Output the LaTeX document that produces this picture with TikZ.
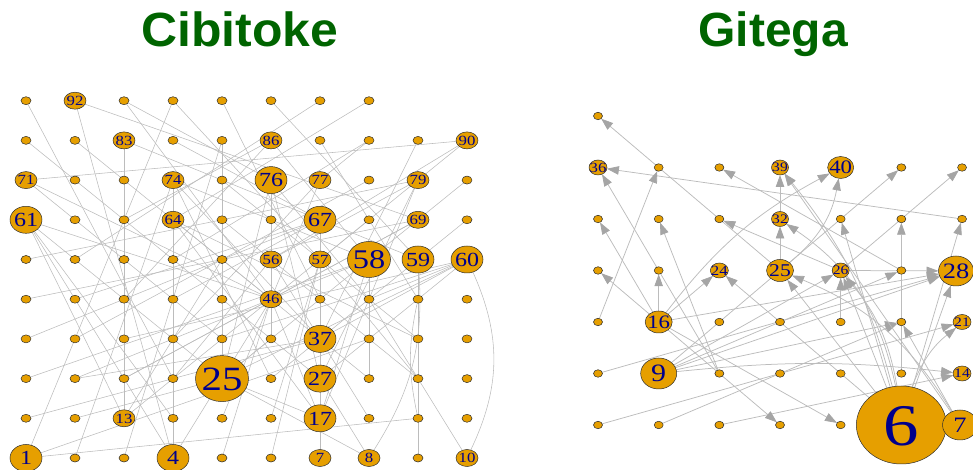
\documentclass[tikz,border=0pt]{standalone}
\usepackage{fontspec}
\setmainfont{Liberation Serif}
\newfontfamily\titlefont{Liberation Sans}
\usetikzlibrary{shapes.geometric,arrows.meta}
\definecolor{nodefill}{RGB}{230,159,0}
\definecolor{nodeborder}{RGB}{45,45,45}
\definecolor{labblue}{RGB}{0,0,139}
\definecolor{edgegray}{RGB}{188,188,188}
\definecolor{arrgray}{RGB}{165,165,165}
\definecolor{titlegreen}{RGB}{0,100,0}
\pgfdeclarelayer{bg}
\pgfsetlayers{bg,main}
\newcommand\nlab[1]{\makebox[0pt]{\smash{\raisebox{-0.34em}{\scalebox{1.2}[1]{#1}}}}}
\begin{document}
\begin{tikzpicture}[x=1pt,y=1pt,
  vtx/.style={ellipse, draw=nodeborder, line width=0.5pt, fill=nodefill, inner sep=0pt, outer sep=0pt, text=labblue},
  cs/.style={vtx, minimum width=10pt, minimum height=8pt},
  gs/.style={vtx, minimum width=9pt, minimum height=7.5pt},
  lab/.style n args={3}{vtx, minimum width=#1pt, minimum height=#2pt, font=\fontsize{#3}{#3}\selectfont},
  cedge/.style={draw=edgegray, line width=0.55pt},
  gedge/.style={draw=edgegray, line width=0.75pt, -{Triangle[length=12pt,width=8.5pt,color=arrgray]}},
  title/.style={font=\titlefont\bfseries\fontsize{48}{48}\selectfont, text=titlegreen, anchor=base}
]
\useasboundingbox (0,0) rectangle (973,470);
\clip (0,0) rectangle (973,470);

% titles
\node[title, xscale=1.04, transform shape] (t1) at (240,423) {Cibitoke};
\node[title] (t2) at (773,423) {Gitega};

% ---------- Cibitoke nodes ----------
\foreach \n/\ww/\hh/\fs in {1/32/27/20, 4/32/27/20, 17/32/27/20, 27/32/27/20, 37/32/27/20,
  59/32/27/20, 60/32/27/20, 61/32/27/20, 67/32/27/20, 76/32/27/20,
  25/53/46/34, 58/43/36/27,
  7/22/17/14, 8/22/17/14, 10/22/17/14, 13/22/17/14, 46/22/17/14, 56/22/17/14, 57/22/17/14,
  64/22/17/14, 69/22/17/14, 71/22/17/14, 74/22/17/14, 77/22/17/14, 79/22/17/14, 83/22/17/14,
  86/22/17/14, 90/22/17/14, 92/22/17/14} {
  \pgfmathtruncatemacro\rr{(\n-1)/10}
  \pgfmathtruncatemacro\cc{\n-1-10*\rr}
  \node[lab={\ww}{\hh}{\fs}] (C\n) at ({26+49*\cc},{12+39.7*\rr}) {\nlab{\n}};
}
\foreach \n in {2,3,5,6,9,11,12,14,15,16,18,19,20,21,22,23,24,26,28,29,30,
  31,32,33,34,35,36,38,39,40,41,42,43,44,45,47,48,49,50,51,52,53,54,55,
  62,63,65,66,68,70,72,73,75,78,80,81,82,84,85,87,88,89,91,93,94,95,96,97,98} {
  \pgfmathtruncatemacro\rr{(\n-1)/10}
  \pgfmathtruncatemacro\cc{\n-1-10*\rr}
  \node[cs] (C\n) at ({26+49*\cc},{12+39.7*\rr}) {};
}

% ---------- Gitega nodes ----------
\foreach \n/\ww/\hh/\fs in {6/90/78/59, 9/36/31/25, 14/18/15/13, 16/27/22/19,
  21/18/15/13, 24/18/15/14, 25/27/22/18, 26/17/15/13, 32/17/15/13,
  36/18/15/14, 39/17/15/13, 40/26/22/19} {
  \pgfmathtruncatemacro\rr{(\n-1)/7}
  \pgfmathtruncatemacro\cc{\n-1-7*\rr}
  \node[lab={\ww}{\hh}{\fs}] (G\n) at ({598+60.67*\cc},{45+51.5*\rr}) {\nlab{\n}};
}
\node[lab={35}{30}{22}] (G7) at (960,45) {\nlab{7}};
\node[lab={35}{30}{22}] (G28) at (956,199) {\nlab{28}};
\foreach \n in {1,2,3,4,5,8,10,11,12,13,15,17,18,19,20,22,23,27,29,30,31,33,34,35,37,38,41,42,43} {
  \pgfmathtruncatemacro\rr{(\n-1)/7}
  \pgfmathtruncatemacro\cc{\n-1-7*\rr}
  \node[gs] (G\n) at ({598+60.67*\cc},{45+51.5*\rr}) {};
}

% ---------- edges ----------
\begin{pgfonlayer}{bg}
\foreach \a/\b in {91/24, 92/4, 92/69, 93/46, 94/57, 81/27, 82/46, 83/13, 83/59, 74/37,
  71/46, 61/13, 61/4, 61/25, 61/14, 51/79, 41/69, 31/67, 21/58, 11/37, 12/25, 1/19,
  1/94, 2/74, 3/85, 4/25, 5/46, 6/57, 7/17, 17/27, 27/37, 37/57, 8/25, 8/27, 9/59,
  10/48, 48/60, 37/60, 17/46, 17/48, 96/59, 97/52, 98/64, 86/63, 88/54, 89/37, 90/57,
  90/56, 79/48, 79/56, 80/58, 70/59, 69/46, 25/85, 25/58, 25/60, 25/46, 25/76, 25/17,
  25/36, 58/17, 58/38, 58/28, 58/86, 58/74, 58/22, 76/46, 76/36, 76/48, 76/93, 76/27,
  67/17, 67/44, 67/42, 37/22, 27/60, 27/79, 17/64, 60/33, 4/74, 13/55, 13/68, 64/28,
  64/39, 77/88, 77/34, 77/15, 56/18, 56/24, 57/16, 46/23, 86/43, 69/23, 59/26, 60/35,
  57/29, 95/47, 87/49, 84/67, 78/32, 65/29, 75/39, 1/38, 61/46, 71/35, 90/71, 74/26}
  \draw[cedge] (C\a) -- (C\b);
\draw[cedge] (C10) to[bend right=25] (C60);
\draw[cedge] (C8) to[bend right=18] (C59);
\draw[cedge] (C19) to[bend left=12] (C49);

\foreach \a/\b in {25/43, 35/36, 10/36, 15/37, 27/38, 16/29, 10/30, 26/31, 16/22, 16/23,
  16/24, 6/24, 25/32, 32/39, 9/41, 26/42, 6/35, 13/34, 9/28, 16/28, 6/28, 19/26,
  26/28, 1/21, 2/20, 3/14, 8/28, 16/4, 16/5, 9/20, 7/20, 9/26, 9/27, 7/39, 6/33, 6/26, 6/25}
  \draw[gedge] (G\a) -- (G\b);
\draw[gedge] (G16) to[bend left=12] (G40);
\draw[gedge] (G25) to[bend right=20] (G40);
\draw[gedge] (G6) to[bend right=22] (G32);
\draw[gedge] (G6) to[bend right=12] (G39);
\draw[gedge] (G7) to[bend right=18] (G25);
\draw[gedge] (G6) to[bend left=15] (G21);
\draw[gedge] (G9) to[bend left=6] (G14);
\draw[gedge] (G6) to[bend right=15] (G26);
\end{pgfonlayer}
\end{tikzpicture}
\end{document}
